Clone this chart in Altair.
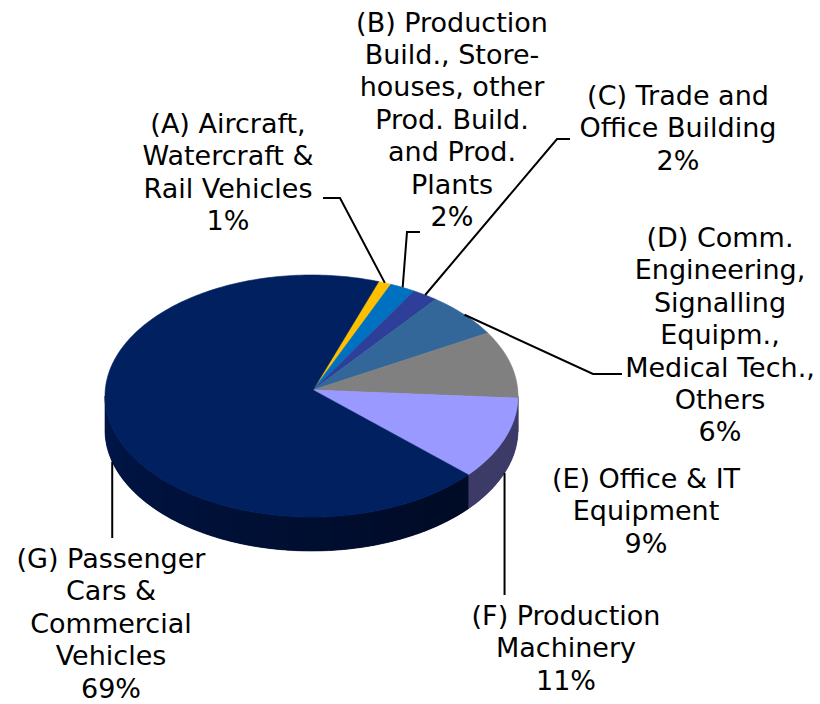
import math
import altair as alt

# ---------------- data ----------------
CATEGORIES = ["A", "B", "C", "D", "E", "F", "G"]
LABELS = [
    ["(A) Aircraft,", "Watercraft &", "Rail Vehicles"],
    ["(B) Production", "Build., Store-", "houses, other", "Prod. Build.", "and Prod.", "Plants"],
    ["(C) Trade  and", "Office Building"],
    ["(D) Comm.", "Engineering,", "Signalling", "Equipm.,", "Medical Tech.,", "Others"],
    ["(E) Office & IT", "Equipment"],
    ["(F) Production", "Machinery"],
    ["(G) Passenger", "Cars &", "Commercial", "Vehicles"],
]
SHARES = [1, 2, 2, 6, 9, 11, 69]

# ---------------- styles ----------------
TOP_COLORS = ["#ffc000", "#0070c0", "#2e3f99", "#336699", "#808080", "#9999ff", "#00205f"]
SIDE_DARK = ["#806000", "#003860", "#171f4c", "#1a334c", "#404040", "#3c3a66", "#000920"]   # at front-right
SIDE_LIGHT = ["#806000", "#003860", "#171f4c", "#1a334c", "#404040", "#3c3a66", "#00174c"]  # at far left

# ---------------- layout (pixels) ----------------
CX, CY, RX, RY, DEPTH = 311.5, 396.0, 206.5, 121.0, 34.0
APEX = (313.0, 390.0)
START_ANGLE = 19.0
FONT = "DejaVu Sans"
FONT_SIZE = 27
LINE_H = 32.4
LABEL_POS = {  # centre x, baseline of first line
    "A": (228, 133), "B": (452, 31.5), "C": (678, 105), "D": (720, 247),
    "E": (646, 488), "F": (566, 625), "G": (111, 568),
}
LEADER_POS = {  # label-side points of the leader line (None x = same x as slice end)
    "A": [(323, 198), (340, 198)],
    "B": [(420, 232), (407, 232)],
    "C": [(570, 139), (557, 139)],
    "D": [(622, 374), (593, 374)],
    "F": [(None, 595)],
    "G": [(None, 538)],
}


def pt(t, dy=0.0):
    r = math.radians(t)
    return [CX + RX * math.sin(r), CY - RY * math.cos(r) + dy]


def arc(t1, t2, dy=0.0):
    n = max(2, int(abs(t2 - t1)) + 2)
    return [pt(t1 + (t2 - t1) * i / (n - 1), dy) for i in range(n)]


def mix(c1, c2, f):
    a = [int(c1[i:i + 2], 16) for i in (1, 3, 5)]
    b = [int(c2[i:i + 2], 16) for i in (1, 3, 5)]
    return "#" + "".join(f"{round(x + (y - x) * f):02x}" for x, y in zip(a, b))


def wall_ring(s1, s2):
    ring = arc(s1, s2) + arc(s2, s1, DEPTH)
    ring.append(ring[0])
    return ring


total = float(sum(SHARES))
bounds = []
acc = START_ANGLE
for s in SHARES:
    t1 = acc
    acc += 360.0 * s / total
    bounds.append((t1, acc))

top_feats, base_feats, wall_feats, leader_feats, text_rows = [], [], [], [], []
for k, (cat, lab, share, (t1, t2)) in enumerate(zip(CATEGORIES, LABELS, SHARES, bounds)):
    ring = [list(APEX)] + arc(t1, t2) + [list(APEX)]
    top_feats.append({"type": "Feature", "properties": {"fill": TOP_COLORS[k], "cat": cat},
                      "geometry": {"type": "Polygon", "coordinates": [ring]}})
    # visible front wall: angles 90..270 (and 450..630), shaded in strips over a solid base
    for lo, hi in [(90, 270), (450, 630)]:
        a, b = max(t1, lo), min(t2, hi)
        if b > a:
            base_feats.append({"type": "Feature",
                               "properties": {"fill": mix(SIDE_DARK[k], SIDE_LIGHT[k], 0.3), "cat": cat},
                               "geometry": {"type": "Polygon", "coordinates": [wall_ring(a, b)]}})
            n = max(1, int(math.ceil((b - a) / 4.0)))
            for j in range(n):
                s1 = a + (b - a) * j / n
                s2 = a + (b - a) * (j + 1) / n
                f = (((s1 + s2) / 2 - lo) / 180.0) ** 1.5
                col = mix(SIDE_DARK[k], SIDE_LIGHT[k], f)
                wall_feats.append({"type": "Feature", "properties": {"fill": col, "cat": cat},
                                   "geometry": {"type": "Polygon",
                                                "coordinates": [wall_ring(s1, min(b, s2 + 0.4))]}})
    # leader line
    mid = (t1 + t2) / 2.0
    front = math.cos(math.radians(mid)) < 0
    end = pt(mid, DEPTH if front else 0.0)
    if cat in LEADER_POS:
        pts = [[end[0] if x is None else x, y] for x, y in LEADER_POS[cat]] + [end]
        leader_feats.append({"type": "Feature", "properties": {"cat": cat},
                             "geometry": {"type": "LineString", "coordinates": pts}})
    # text lines
    lx, ly = LABEL_POS[cat]
    for i, line in enumerate(lab + [f"{share}%"]):
        text_rows.append({"x": lx, "y": ly + i * LINE_H, "t": line})

proj = dict(type="identity", scale=1, translate=[0, 0])


def polys(feats, sw):
    return alt.Chart(alt.InlineData(values=feats)).mark_geoshape(strokeWidth=sw).encode(
        fill=alt.Color(field="properties.fill", type="nominal", scale=None),
        stroke=alt.Color(field="properties.fill", type="nominal", scale=None),
    ).project(**proj)


base = polys(base_feats, 0.6)
walls = alt.Chart(alt.InlineData(values=wall_feats)).mark_geoshape(strokeWidth=0).encode(
    fill=alt.Color(field="properties.fill", type="nominal", scale=None),
).project(**proj)
tops = polys(top_feats, 0.6)

leaders = alt.Chart(alt.InlineData(values=leader_feats)).mark_geoshape(
    filled=False, stroke="black", strokeWidth=2
).project(**proj)

texts = alt.Chart(alt.InlineData(values=text_rows)).mark_text(
    font=FONT, fontSize=FONT_SIZE, align="center", baseline="alphabetic", color="black"
).encode(
    longitude="x:Q", latitude="y:Q", text="t:N"
).project(**proj)

chart = alt.layer(base, walls, tops, leaders, texts).properties(
    width=820, height=704, padding=0, autosize=alt.AutoSizeParams(type="none"),
    background="white",
).configure_view(stroke=None)

chart.save("out.html", embed_options={"renderer": "svg", "actions": False})
